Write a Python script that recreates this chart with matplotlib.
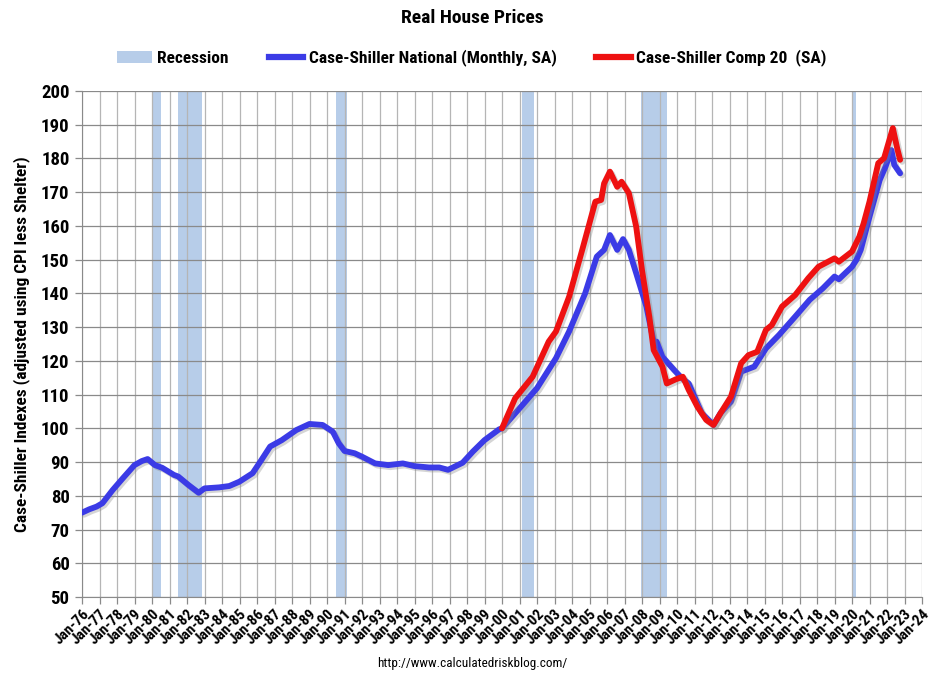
import matplotlib
matplotlib.use("Agg")
import matplotlib.pyplot as plt
import matplotlib.patheffects as pe
from matplotlib.lines import Line2D
from matplotlib.patches import Patch
from matplotlib import font_manager

# ---- data ----
national_dates = ["1976-01","1976-06","1976-11","1977-03","1977-10","1978-05","1979-01","1979-06",
    "1979-10","1980-03","1980-08","1981-04","1981-07","1982-02","1982-09","1983-01","1983-11",
    "1984-06","1985-01","1985-10","1986-04","1986-10","1987-06","1988-04","1989-01","1989-10",
    "1990-05","1990-09","1991-01","1991-08","1992-01","1992-10","1993-07","1994-05","1995-01",
    "1995-11","1996-06","1996-12","1997-10","1998-05","1999-01","1999-11","2000-01","2001-03",
    "2002-01","2003-02","2003-11","2004-10","2005-06","2005-11","2006-03","2006-08","2006-12",
    "2007-04","2007-09","2008-04","2008-09","2008-11","2009-03","2009-11","2010-04","2010-09",
    "2011-06","2012-02","2012-07","2013-02","2013-09","2014-06","2015-02","2015-11","2016-10",
    "2017-08","2018-05","2019-01","2019-04","2020-01","2020-04","2020-07","2021-01","2021-08",
    "2021-12","2022-04","2022-06","2022-10"]
national_values = [75.0,76.0,76.8,77.8,81.7,85.2,89.1,90.3,
    90.9,89.1,88.3,86.2,85.7,83.2,80.9,82.2,82.5,
    82.9,84.2,86.7,90.6,94.6,96.5,99.5,101.3,101.0,
    99.0,95.6,93.3,92.6,91.6,89.6,89.1,89.6,88.8,
    88.4,88.4,87.7,89.8,93.1,96.5,99.7,100.0,106.9,
    111.9,120.8,128.7,140.0,150.9,152.9,157.3,152.9,156.1,
    152.9,146.0,136.1,125.7,125.7,121.2,117.3,115.0,113.3,
    104.5,101.0,104.6,107.9,116.8,118.3,123.7,127.7,133.1,
    138.1,141.5,145.0,144.2,147.9,149.9,152.9,162.7,173.6,
    177.6,182.5,178.1,175.6]

comp20_dates = ["2000-01","2000-10","2001-10","2002-09","2003-02","2003-11","2004-08","2005-05",
    "2005-09","2005-11","2006-03","2006-08","2006-11","2007-04","2007-09","2008-01","2008-06",
    "2008-09","2009-03","2009-06","2009-12","2010-05","2010-09","2011-03","2011-09","2012-02",
    "2012-07","2013-02","2013-09","2014-02","2014-08","2015-02","2015-06","2016-01","2016-10",
    "2017-07","2018-02","2019-01","2019-04","2020-01","2020-06","2020-09","2021-01","2021-07",
    "2021-11","2022-05","2022-08","2022-10"]
comp20_values = [100.0,108.9,115.3,125.7,128.7,139.0,152.9,167.2,
    167.7,172.6,176.1,171.6,173.1,169.7,159.8,146.9,133.1,
    123.2,118.3,113.3,114.5,115.3,111.4,106.4,102.5,101.0,
    104.6,109.4,119.3,121.7,122.7,129.2,130.6,136.1,139.5,
    144.5,147.9,150.4,149.4,152.4,156.8,160.8,167.2,178.6,
    180.1,189.0,183.0,179.6]

recession_starts = ["1980-01","1981-07","1990-07","2001-03","2007-12","2020-02"]
recession_ends   = ["1980-07","1982-11","1991-03","2001-11","2009-06","2020-04"]

tick_years = list(range(1976, 2025))
tick_labels = ["Jan-%02d" % (y % 100) for y in tick_years]
y_ticks = list(range(50, 201, 10))

def to_year(s):
    y, m = s.split("-")
    return int(y) + (int(m) - 1) / 12.0

# ---- fonts ----
avail = {f.name for f in font_manager.fontManager.ttflist}
narrow = [f for f in ["Liberation Sans Narrow", "Roboto Condensed", "Open Sans", "DejaVu Sans"] if f in avail]
plt.rcParams['font.family'] = narrow

fig = plt.figure(figsize=(9.44, 6.8), dpi=100)
ax = fig.add_axes([82/944, 1-597/680, 840/944, 506/680])

for s, e in zip(recession_starts, recession_ends):
    ax.axvspan(to_year(s), to_year(e), color="#b7cde9", zorder=0.2, lw=0)

shadow = [pe.SimpleLineShadow(offset=(1.5, -1.5), shadow_color="#888888", alpha=0.35), pe.Normal()]
ax.plot([to_year(d) for d in national_dates], national_values, color="#3b3be6", lw=4.2,
        solid_joinstyle="round", solid_capstyle="round", zorder=3, path_effects=shadow)
ax.plot([to_year(d) for d in comp20_dates], comp20_values, color="#ee1111", lw=4.2,
        solid_joinstyle="round", solid_capstyle="round", zorder=4, path_effects=shadow)

ax.set_xlim(1976, 2024)
ax.set_ylim(50, 200)
ax.set_xticks(tick_years)
ax.set_xticklabels(tick_labels, rotation=45, ha="right", rotation_mode="anchor", fontsize=11,
                   fontweight="bold")
ax.set_yticks(y_ticks)
ax.set_yticklabels([str(v) for v in y_ticks], fontsize=13.5, fontweight="bold")
ax.set_axisbelow(True)
ax.grid(axis="x", color="#b5b5b5", lw=0.9)
ax.grid(axis="y", color="#8a8a8a", lw=0.9)
for side in ["top", "right"]:
    ax.spines[side].set_visible(False)
for side in ["left", "bottom"]:
    ax.spines[side].set_color("#8a8a8a")
ax.tick_params(axis="both", length=5, color="#8a8a8a", width=0.9)
ax.tick_params(axis="y", pad=4)
ax.tick_params(axis="x", pad=2)

ax.set_ylabel("Case-Shiller Indexes (adjusted using CPI less Shelter)", fontsize=12.5, fontweight="bold", labelpad=8)

fig.text(0.5, 1-18/680, "Real House Prices", ha="center", va="center", fontsize=14, fontweight="bold")
fig.text(0.5, 1-663/680, "http://www.calculatedriskblog.com/", ha="center", va="center", fontsize=9.5)

handles = [Patch(facecolor="#b7cde9", edgecolor="none"),
           Line2D([0], [0], color="#3b3be6", lw=4.5),
           Line2D([0], [0], color="#ee1111", lw=4.5)]
labels = ["Recession", "Case-Shiller National (Monthly, SA)", "Case-Shiller Comp 20  (SA)"]
fig.legend(handles, labels, loc="center", bbox_to_anchor=(0.5, 1-58/680), ncol=3, frameon=False,
           prop={"weight": "bold", "size": 12.5}, handlelength=2.0, handletextpad=0.3, columnspacing=2.3)

fig.savefig("out.png", dpi=100)
